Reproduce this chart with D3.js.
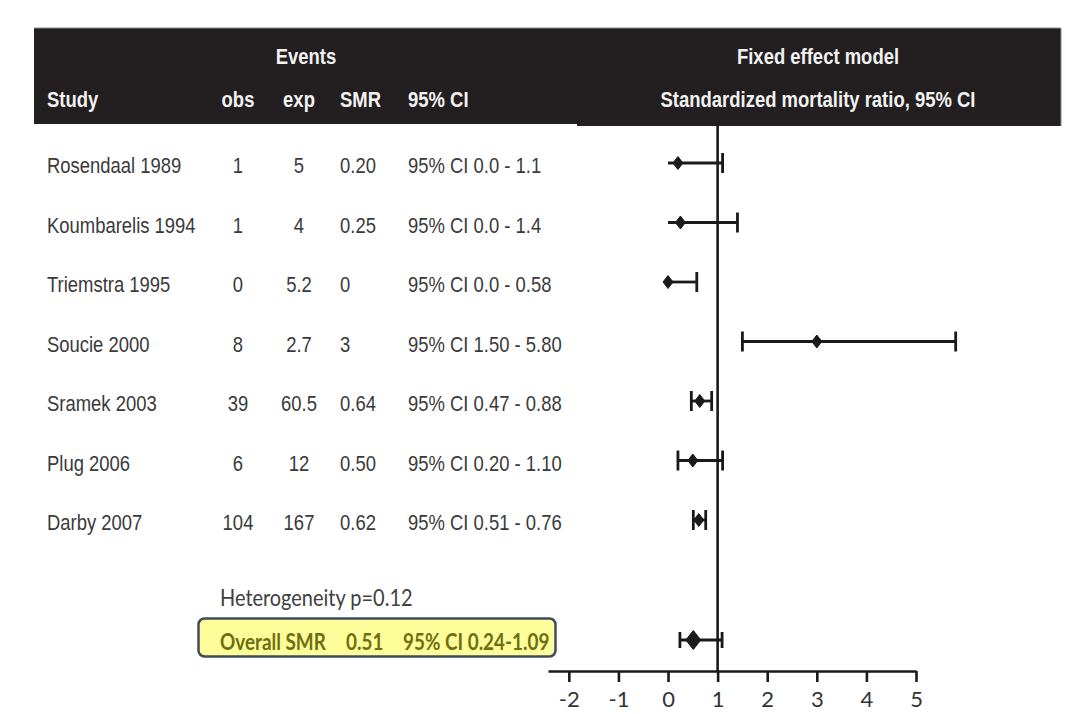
<!DOCTYPE html>
<html>
<head>
<meta charset="utf-8">
<script src="https://cdn.jsdelivr.net/npm/d3@7/dist/d3.min.js"></script>
<style>
  html, body { margin: 0; padding: 0; background: #ffffff; }
  svg { display: block; }
</style>
</head>
<body>
<svg id="chart" width="1066" height="714"></svg>
<script>
// Study-level data for the SMR forest plot
const studies   = ["Rosendaal 1989", "Koumbarelis 1994", "Triemstra 1995", "Soucie 2000", "Sramek 2003", "Plug 2006", "Darby 2007"];
const obsEvents = ["1", "1", "0", "8", "39", "6", "104"];
const expEvents = ["5", "4", "5.2", "2.7", "60.5", "12", "167"];
const smrValues = [0.20, 0.25, 0, 3, 0.64, 0.50, 0.62];
const smrLabels = ["0.20", "0.25", "0", "3", "0.64", "0.50", "0.62"];
const ciLower   = [0.0, 0.0, 0.0, 1.50, 0.47, 0.20, 0.51];
const ciUpper   = [1.1, 1.4, 0.58, 5.80, 0.88, 1.10, 0.76];
const ciLabels  = ["95% CI 0.0 - 1.1", "95% CI 0.0 - 1.4", "95% CI 0.0 - 0.58", "95% CI 1.50 - 5.80",
                   "95% CI 0.47 - 0.88", "95% CI 0.20 - 1.10", "95% CI 0.51 - 0.76"];

// Pooled estimate
const overallSMR   = [0.51];
const overallLower = [0.24];
const overallUpper = [1.09];
const overallSMRLabel = "0.51";
const overallCILabel  = "95% CI 0.24-1.09";
const heterogeneityLabel = "Heterogeneity p=0.12";

const axisTicks = [-2, -1, 0, 1, 2, 3, 4, 5];
const nullValue = 1;

const svg = d3.select("#chart");

// Scales
const x = d3.scaleLinear().domain([-2.42, 5]).range([548, 916]);
const y = d3.scalePoint().domain(studies).range([163, 520]);
const overallY = 640;
const axisY = 671;

// Helper for horizontally condensed text
function label(g, txt, px, py, opts) {
  const o = Object.assign({ size: 22.5, sx: 0.82, sy: 1, anchor: "start", weight: "normal", fill: "#3a3a3a", family: "'Liberation Sans', Arial, sans-serif" }, opts || {});
  return g.append("text")
    .attr("transform", `translate(${px},${py}) scale(${o.sx},${o.sy})`)
    .attr("text-anchor", o.anchor)
    .attr("font-family", o.family)
    .attr("font-size", o.size)
    .attr("font-weight", o.weight)
    .attr("fill", o.fill)
    .text(txt);
}

// Header band
const header = svg.append("g");
header.append("rect").attr("x", 34).attr("y", 28).attr("width", 545).attr("height", 96)
  .attr("fill", "#231f20");
header.append("rect").attr("x", 577).attr("y", 28).attr("width", 484).attr("height", 98)
  .attr("fill", "#231f20");
header.append("line").attr("x1", 34).attr("x2", 1061).attr("y1", 28).attr("y2", 28)
  .attr("stroke", "#8a8a8a").attr("stroke-width", 1);
header.append("line").attr("x1", 1061).attr("x2", 1061).attr("y1", 28).attr("y2", 126)
  .attr("stroke", "#8a8a8a").attr("stroke-width", 1);

const hOpts = { size: 22, sx: 0.84, weight: "bold", fill: "#f2f2f2" };
label(header, "Events", 306, 64, Object.assign({}, hOpts, { anchor: "middle" }));
label(header, "Fixed effect model", 818, 64, Object.assign({}, hOpts, { anchor: "middle" }));
label(header, "Study", 47, 107, hOpts);
label(header, "obs", 238, 107, Object.assign({}, hOpts, { anchor: "middle" }));
label(header, "exp", 299, 107, Object.assign({}, hOpts, { anchor: "middle" }));
label(header, "SMR", 340, 107, hOpts);
label(header, "95% CI", 408, 107, hOpts);
label(header, "Standardized mortality ratio, 95% CI", 818, 107, Object.assign({}, hOpts, { anchor: "middle" }));

// Table rows
const table = svg.append("g");
studies.forEach((s, i) => {
  const by = y(s) + 10;
  label(table, s, 47, by);
  label(table, obsEvents[i], 238, by, { anchor: "middle" });
  label(table, expEvents[i], 299, by, { anchor: "middle" });
  label(table, smrLabels[i], 340, by);
  label(table, ciLabels[i], 408, by);
});

// Null reference line at SMR = 1
svg.append("line")
  .attr("x1", x(nullValue)).attr("x2", x(nullValue))
  .attr("y1", 126).attr("y2", axisY)
  .attr("stroke", "#1a1a1a").attr("stroke-width", 2.6);

// Axis
const axisG = svg.append("g")
  .attr("transform", `translate(0,${axisY})`)
  .call(d3.axisBottom(x).tickValues(axisTicks).tickSizeInner(11).tickSizeOuter(0).tickPadding(9)
    .tickFormat(d3.format("d")));
axisG.select(".domain").attr("stroke", "#1a1a1a").attr("stroke-width", 2.6);
axisG.selectAll(".tick line").attr("stroke", "#1a1a1a").attr("stroke-width", 2.6);
axisG.selectAll(".tick text")
  .attr("font-family", "Lato, 'Open Sans', sans-serif")
  .attr("font-size", 22)
  .attr("fill", "#333333")
  .text(d => String(d).replace("\u2212", "-"));

// Diamond path centred on (cx, cy)
function diamond(cx, cy, hw, hh) {
  return `M${cx},${cy - hh}L${cx + hw},${cy}L${cx},${cy + hh}L${cx - hw},${cy}Z`;
}

// Study CIs and point estimates
const marks = svg.append("g").attr("stroke", "#1a1a1a").attr("stroke-width", 2.8).attr("fill", "#1a1a1a");
studies.forEach((s, i) => {
  const cy = y(s);
  marks.append("line").attr("x1", x(ciLower[i])).attr("x2", x(ciUpper[i])).attr("y1", cy).attr("y2", cy);
  if (ciLower[i] > 0) {
    marks.append("line").attr("x1", x(ciLower[i])).attr("x2", x(ciLower[i])).attr("y1", cy - 10).attr("y2", cy + 10);
  }
  marks.append("line").attr("x1", x(ciUpper[i])).attr("x2", x(ciUpper[i])).attr("y1", cy - 10).attr("y2", cy + 10);
  marks.append("path").attr("d", diamond(x(smrValues[i]), cy, 5, 6.5)).attr("stroke-width", 1);
});

// Pooled estimate
overallSMR.forEach((v, i) => {
  marks.append("line").attr("x1", x(overallLower[i])).attr("x2", x(overallUpper[i])).attr("y1", overallY).attr("y2", overallY);
  marks.append("line").attr("x1", x(overallLower[i])).attr("x2", x(overallLower[i])).attr("y1", overallY - 8).attr("y2", overallY + 8);
  marks.append("line").attr("x1", x(overallUpper[i])).attr("x2", x(overallUpper[i])).attr("y1", overallY - 8).attr("y2", overallY + 8);
  marks.append("path").attr("d", diamond(x(v), overallY, 7.5, 9.5)).attr("stroke-width", 1);
});

// Heterogeneity note and highlighted summary
const summary = svg.append("g");
const noteFont = "Lato, 'Open Sans', sans-serif";
label(summary, heterogeneityLabel, 220, 606, { family: noteFont, size: 21, sx: 0.95, sy: 1.1, fill: "#404040" });

summary.append("rect")
  .attr("x", 198.5).attr("y", 618.5).attr("width", 357).attr("height", 38).attr("rx", 6)
  .attr("fill", "#fdfd9a").attr("stroke", "#3e4c5c").attr("stroke-width", 2.5);

const sumOpts = { family: noteFont, size: 21, sx: 0.9, sy: 1.1, weight: "bold", fill: "#6f6f10" };
label(summary, "Overall SMR", 220, 650, sumOpts);
label(summary, overallSMRLabel, 346, 650, sumOpts);
label(summary, overallCILabel, 403, 650, sumOpts);
</script>
</body>
</html>
